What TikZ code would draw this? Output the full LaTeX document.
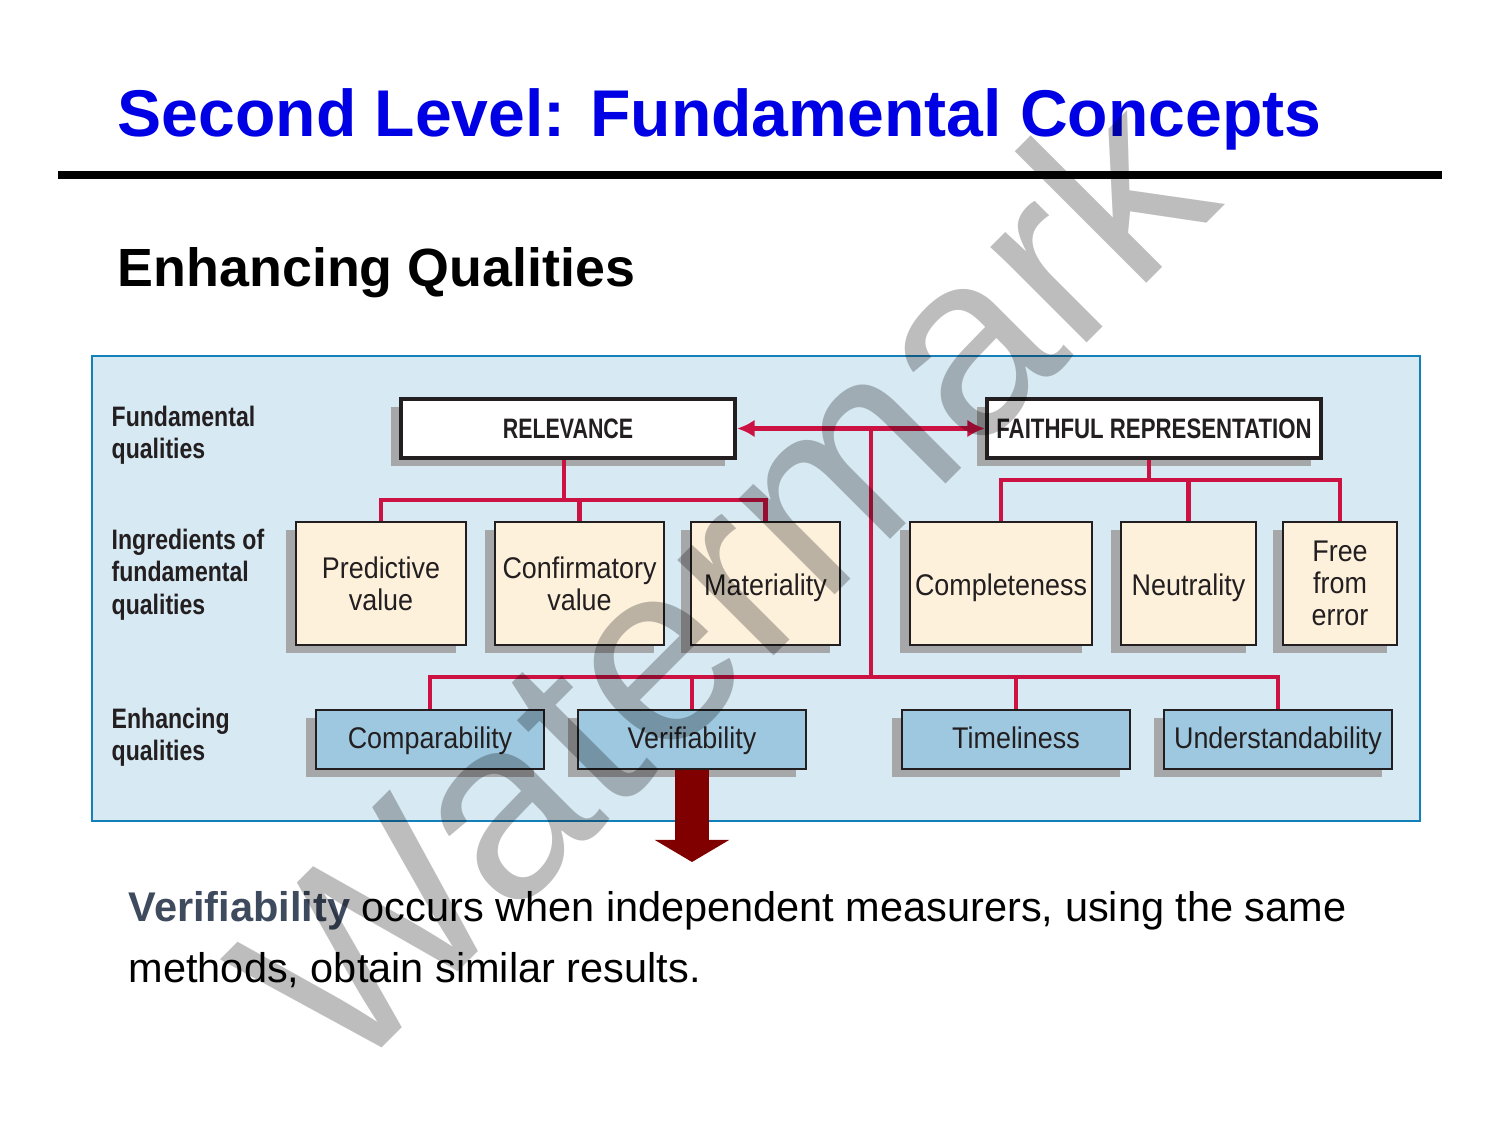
\documentclass[tikz,border=0pt]{standalone}
\usepackage{fontspec}
\setmainfont{Liberation Sans}
\newfontfamily\condfont[FakeStretch=0.9]{Liberation Sans}
\newfontfamily\labfont[FakeStretch=0.82]{Liberation Sans}
\newfontfamily\headfont[FakeStretch=0.76]{Liberation Sans}
\newfontfamily\headfontw[FakeStretch=0.79]{Liberation Sans}
\usetikzlibrary{arrows.meta,shadows,calc}
\definecolor{titleblue}{RGB}{0,0,228}
\definecolor{panelfill}{RGB}{215,233,243}
\definecolor{panelline}{RGB}{20,128,186}
\definecolor{cream}{RGB}{253,241,220}
\definecolor{enhblue}{RGB}{157,200,224}
\definecolor{shgray}{RGB}{166,167,169}
\definecolor{crim}{RGB}{204,18,67}
\definecolor{bord}{RGB}{35,31,32}
\definecolor{txt}{RGB}{35,31,32}
\definecolor{darkred}{RGB}{128,0,0}
\definecolor{slate}{RGB}{62,74,94}
\begin{document}
\begin{tikzpicture}[x=0.01cm,y=-0.01cm,
  box/.style={draw=bord, line width=0.7pt,
    general shadow={fill=shgray, shadow xshift=-0.1cm, shadow yshift=-0.08cm},
    inner sep=0pt, align=center, text=txt,
    font=\condfont\fontsize{8.5}{9.1}\selectfont},
  ing/.style={box, fill=cream, minimum height=1.23cm},
  ingone/.style={ing, text height=6.6pt, text depth=0pt},
  enh/.style={box, fill=enhblue, minimum height=0.59cm, minimum width=2.28cm,
    text height=6.2pt, text depth=0.8pt},
  fund/.style={box, fill=white, line width=1.1pt, minimum width=3.34cm, minimum height=0.59cm,
    font=\headfont\bfseries\fontsize{8}{9}\selectfont},
  conn/.style={draw=crim, line width=1.15pt},
  lab/.style={anchor=north west, inner sep=0pt, align=left, text=txt,
    font=\labfont\bfseries\fontsize{8}{9.35}\selectfont}]
\useasboundingbox (0,0) rectangle (1500,1125);

% title and rule
\node[anchor=base west, inner sep=0pt, text=titleblue, font=\bfseries\fontsize{18.8}{22}\selectfont] (title) at (117,137) {Second Level: Fundamental Concepts};
\coordinate (rl) at (58,175);
\coordinate (rr) at (1442,175);
\draw[line width=2.3pt] (rl) -- (rr);
\node[anchor=base west, inner sep=0pt, font=\bfseries\fontsize{15.3}{18}\selectfont] (sub) at (117,287) {Enhancing Qualities};

% panel
\draw[draw=panelline, line width=0.6pt, fill=panelfill] (92,356) rectangle (1420,821);

% row labels
\node[lab] (l1) at (111,405) {Fundamental\\qualities};
\node[lab] (l2) at (111,528) {Ingredients of\\fundamental\\qualities};
\node[lab] (l3) at (111,707) {Enhancing\\qualities};

% fundamental boxes
\node[fund] (rel) at (568,428.5) {RELEVANCE};
\node[fund, font=\headfontw\bfseries\fontsize{8}{9}\selectfont] (fr) at (1154,428.5) {FAITHFUL REPRESENTATION};

% ingredients
\node[ing, minimum width=1.70cm] (pv) at (381,583.5) {Predictive\\value};
\node[ing, minimum width=1.69cm] (cv) at (579.5,583.5) {Confirmatory\\value};
\node[ingone, minimum width=1.49cm] (mat) at (765.5,583.5) {Materiality};
\node[ingone, minimum width=1.82cm] (comp) at (1001,583.5) {Completeness};
\node[ingone, minimum width=1.35cm] (neu) at (1188.5,583.5) {Neutrality};
\node[ing, minimum width=1.14cm] (ffe) at (1340,583.5) {Free\\from\\error};

% enhancing
\node[enh] (cmp) at (430,739.5) {Comparability};
\node[enh] (ver) at (692,739.5) {Verifiability};
\node[enh] (tim) at (1016,739.5) {Timeliness};
\node[enh] (und) at (1278,739.5) {Understandability};

% connectors
\draw[conn] ([xshift=-0.04cm]rel.south) -- ++(0,40);
\draw[conn] (pv.north) -- ++(0,-21) -| (mat.north);
\draw[conn] (cv.north) -- ++(0,-21);
\draw[conn] ([xshift=-0.05cm]fr.south) -- ++(0,20);
\draw[conn] (comp.north) -- ++(0,-41) -| (ffe.north);
\draw[conn] (neu.north) -- ++(0,-41);
\draw[conn, {Latex[length=5pt,width=5pt]}-{Latex[length=5pt,width=5pt]}] (rel.east) -- (fr.west);
\coordinate (j) at (871,428.5);
\draw[conn] (j) -- ($(j |- cmp.north)+(0,-32)$);
\draw[conn] (cmp.north) -- ++(0,-32) -| (und.north);
\draw[conn] (ver.north) -- ++(0,-32);
\draw[conn] (tim.north) -- ++(0,-32);

% dark arrow
\coordinate (vtip) at (ver.south |- 0,862);
\draw[draw=darkred, line width=9.7pt, -{Triangle[length=6.3pt,width=21pt]}] (ver.south) -- (vtip);

% bottom text
\node[anchor=base west, inner sep=0pt, font=\fontsize{11.8}{17.4}\selectfont] (t1) at (128,921) {\textcolor{slate}{\bfseries Verifiability} occurs when independent measurers, using the same};
\node[anchor=base west, inner sep=0pt, font=\fontsize{11.8}{17.4}\selectfont] (t2) at (128,982) {methods, obtain similar results.};

% watermark
\node[rotate=45, anchor=base, inner sep=0pt, text=black, text opacity=0.26, font=\fontsize{73}{73}\selectfont] (wm) at (785,645) {Watermark};
\end{tikzpicture}
\end{document}
